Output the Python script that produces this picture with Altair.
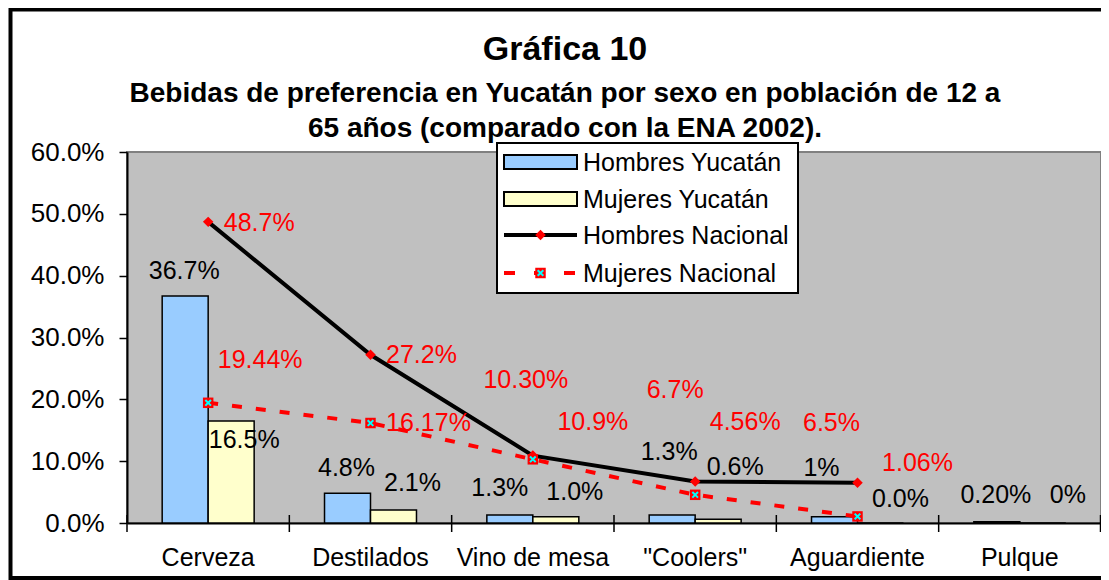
import altair as alt
import pandas as pd

# ---------------- data ----------------
CATS = ["Cerveza", "Destilados", "Vino de mesa", '"Coolers"', "Aguardiente", "Pulque"]
SERIES_YUC = ["Hombres Yucatán", "Mujeres Yucatán"]
SERIES_NAC = ["Hombres Nacional", "Mujeres Nacional"]

HOMBRES_YUC = [36.7, 4.8, 1.3, 1.3, 1.0, 0.2]
MUJERES_YUC = [16.5, 2.1, 1.0, 0.6, 0.0, 0.0]
HOMBRES_NAC = [48.7, 27.2, 10.9, 6.7, 6.5]
MUJERES_NAC = [19.44, 16.17, 10.30, 4.56, 1.06]

HY_LABELS = ["36.7%", "4.8%", "1.3%", "1.3%", "1%", "0.20%"]
MY_LABELS = ["16.5%", "2.1%", "1.0%", "0.6%", "0.0%", "0%"]
HN_LABELS = ["48.7%", "27.2%", "10.9%", "6.7%", "6.5%"]
MN_LABELS = ["19.44%", "16.17%", "10.30%", "4.56%", "1.06%"]

Y_TICKS = [0, 10, 20, 30, 40, 50, 60]

TITLE = "Gráfica 10"
SUBTITLE = ["Bebidas de preferencia en Yucatán por sexo en población de 12 a",
            "65 años (comparado con la ENA 2002)."]

# ---------------- label nudges (pixels, relative to category centre / value) ----------------
HY_NUDGE = [(-24, -25), (-24, -25), (-33, -27), (-26, -63), (-36, -49), (-24, -27)]
MY_NUDGE = [(36, 19), (42, -27), (42, -25), (40, -52), (43, -24), (48, -28)]
HN_NUDGE = [(51, 1), (51, 0), (60, -34), (-20, -92), (-26, -60)]
MN_NUDGE = [(52, -43), (58, 0), (-7, -79), (50, -73), (60, -53)]

# ---------------- style ----------------
W, H = 974, 371
FONT = "Liberation Sans"
BLUE = "#99CCFF"
YELLOW = "#FFFFCC"
RED = "#FF0000"
CYAN = "#00FFFF"
FS = 25

X_SCALE = alt.Scale(domain=CATS, paddingInner=0, paddingOuter=0)
X_AXIS = alt.Axis(title=None, labelAngle=0, ticks=False, tickSize=0,
                  labelPadding=22, labelFontSize=FS, labelFont=FONT,
                  labelColor="black", domainColor="black", domainWidth=2)
x_enc = alt.X("cat:N", scale=X_SCALE, axis=X_AXIS)
y_enc = alt.Y("valor:Q",
              scale=alt.Scale(domain=[0, 60], nice=False, zero=True),
              axis=alt.Axis(title=None, values=Y_TICKS, grid=False,
                            labelExpr="format(datum.value / 100, '.1%')",
                            tickSize=8, tickWidth=1.5, tickColor="black",
                            labelPadding=15, labelFontSize=26, labelFont=FONT,
                            labelColor="black", domainColor="black", domainWidth=2))

# bars
bars_df = pd.DataFrame({
    "cat": CATS * 2,
    "serie": [SERIES_YUC[0]] * len(CATS) + [SERIES_YUC[1]] * len(CATS),
    "valor": HOMBRES_YUC + MUJERES_YUC,
})
bars = alt.Chart(bars_df).mark_bar(stroke="black", strokeWidth=1.5).encode(
    x=x_enc,
    xOffset=alt.XOffset("serie:N", scale=alt.Scale(domain=SERIES_YUC, paddingInner=0, paddingOuter=0.765)),
    y=y_enc,
    fill=alt.Fill("serie:N", scale=alt.Scale(domain=SERIES_YUC, range=[BLUE, YELLOW]), legend=None),
)

# national lines
hn_df = pd.DataFrame({"cat": CATS[:len(HOMBRES_NAC)], "valor": HOMBRES_NAC, "idx": list(range(len(HOMBRES_NAC)))})
mn_df = pd.DataFrame({"cat": CATS[:len(MUJERES_NAC)], "valor": MUJERES_NAC, "idx": list(range(len(MUJERES_NAC)))})

hn_line = alt.Chart(hn_df).mark_line(color="black", strokeWidth=4).encode(
    x=x_enc, y=y_enc, order="idx:Q")
hn_pts = alt.Chart(hn_df).mark_point(shape="diamond", filled=True, color=RED, size=110, opacity=1).encode(
    x=x_enc, y=y_enc)

mn_line = alt.Chart(mn_df).mark_line(color=RED, strokeWidth=4, strokeDash=[10, 14]).encode(
    x=x_enc, y=y_enc, order="idx:Q")
mn_sq = alt.Chart(mn_df).mark_point(shape="square", filled=True, color=RED, size=110, opacity=1).encode(
    x=x_enc, y=y_enc)
mn_x = alt.Chart(mn_df).mark_point(shape="M-1,-1L1,1M-1,1L1,-1", filled=False, stroke=CYAN,
                                   strokeWidth=2, size=32, opacity=1).encode(x=x_enc, y=y_enc)

# data labels
label_layers = []
def add_labels(values, labels, nudges, color):
    for cat, val, lab, (dx, dy) in zip(CATS, values, labels, nudges):
        df = pd.DataFrame({"cat": [cat], "valor": [val], "txt": [lab]})
        label_layers.append(
            alt.Chart(df).mark_text(dx=dx, dy=dy, color=color, fontSize=FS, font=FONT,
                                    align="center", baseline="middle").encode(
                x=x_enc, y=y_enc, text="txt:N"))

add_labels(HOMBRES_YUC, HY_LABELS, HY_NUDGE, "black")
add_labels(MUJERES_YUC, MY_LABELS, MY_NUDGE, "black")
add_labels(HOMBRES_NAC, HN_LABELS, HN_NUDGE, RED)
add_labels(MUJERES_NAC, MN_LABELS, MN_NUDGE, RED)

# x axis ticks at category boundaries (Excel style)
tick_df = pd.DataFrame({"cat": CATS})
xticks = alt.Chart(tick_df).mark_rule(color="black", strokeWidth=1.5).encode(
    x=alt.X("cat:N", bandPosition=0, scale=X_SCALE, axis=X_AXIS),
    y=alt.value(H - 8), y2=alt.value(H + 9))
xtick_end = alt.Chart(tick_df.head(1)).mark_rule(color="black", strokeWidth=1.5).encode(
    x=alt.value(W - 0.5), y=alt.value(H - 8), y2=alt.value(H + 9))

# legend (drawn)
LX0, LX1 = 370, 671
LY0, LY1 = -9, 141
ROWS = [10, 47, 83, 121]
SYM0, SYM1 = 377, 450
one = pd.DataFrame({"k": [0]})
legend_layers = [
    alt.Chart(one).mark_rect(fill="white", stroke="black", strokeWidth=2).encode(
        x=alt.value(LX0), x2=alt.value(LX1), y=alt.value(LY0), y2=alt.value(LY1)),
    alt.Chart(one).mark_rect(fill=BLUE, stroke="black", strokeWidth=2).encode(
        x=alt.value(SYM0), x2=alt.value(SYM1), y=alt.value(ROWS[0] - 7), y2=alt.value(ROWS[0] + 7)),
    alt.Chart(one).mark_rect(fill=YELLOW, stroke="black", strokeWidth=2).encode(
        x=alt.value(SYM0), x2=alt.value(SYM1), y=alt.value(ROWS[1] - 7), y2=alt.value(ROWS[1] + 7)),
    alt.Chart(one).mark_rule(color="black", strokeWidth=4).encode(
        x=alt.value(SYM0), x2=alt.value(SYM1), y=alt.value(ROWS[2])),
    alt.Chart(one).mark_point(shape="diamond", filled=True, color=RED, size=110, opacity=1).encode(
        x=alt.value((SYM0 + SYM1) / 2), y=alt.value(ROWS[2])),
    alt.Chart(one).mark_rule(color=RED, strokeWidth=4, strokeDash=[11, 19]).encode(
        x=alt.value(SYM0), x2=alt.value(SYM1), y=alt.value(ROWS[3])),
    alt.Chart(one).mark_point(shape="square", filled=True, color=RED, size=110, opacity=1).encode(
        x=alt.value((SYM0 + SYM1) / 2), y=alt.value(ROWS[3])),
    alt.Chart(one).mark_point(shape="M-1,-1L1,1M-1,1L1,-1", filled=False, stroke=CYAN,
                              strokeWidth=2, size=32, opacity=1).encode(
        x=alt.value((SYM0 + SYM1) / 2), y=alt.value(ROWS[3])),
]
for name, ry in zip(SERIES_YUC + SERIES_NAC, ROWS):
    legend_layers.append(
        alt.Chart(pd.DataFrame({"t": [name]})).mark_text(
            align="left", baseline="middle", fontSize=FS, font=FONT, color="black").encode(
            x=alt.value(456), y=alt.value(ry + 1), text="t:N"))

# titles (drawn)
TX = 438
title_layers = [
    alt.Chart(pd.DataFrame({"t": [TITLE]})).mark_text(
        align="center", baseline="alphabetic", fontSize=34, fontWeight="bold", font=FONT, color="black").encode(
        x=alt.value(TX), y=alt.value(-92), text="t:N"),
    alt.Chart(pd.DataFrame({"t": [SUBTITLE[0]]})).mark_text(
        align="center", baseline="alphabetic", fontSize=28, fontWeight="bold", font=FONT, color="black").encode(
        x=alt.value(TX), y=alt.value(-50), text="t:N"),
    alt.Chart(pd.DataFrame({"t": [SUBTITLE[1]]})).mark_text(
        align="center", baseline="alphabetic", fontSize=28, fontWeight="bold", font=FONT, color="black").encode(
        x=alt.value(TX), y=alt.value(-15), text="t:N"),
]

# outer chart border
border = alt.Chart(one).mark_rect(fillOpacity=0, stroke="black", strokeWidth=4).encode(
    x=alt.value(-116.5), x2=alt.value(1010), y=alt.value(-142.5), y2=alt.value(426))

chart = alt.layer(
    bars, mn_line, hn_line, hn_pts, mn_sq, mn_x, xticks, xtick_end,
    *label_layers, *legend_layers, *title_layers, border
).properties(
    width=W, height=H,
    autosize=alt.AutoSizeParams(type="none"),
    padding={"left": 119, "top": 144, "right": 0, "bottom": 57},
    background="white",
).configure_view(
    fill="#C0C0C0", stroke="#808080", strokeWidth=2
)

chart.save("out.html", embed_options={"renderer": "svg", "actions": False})
